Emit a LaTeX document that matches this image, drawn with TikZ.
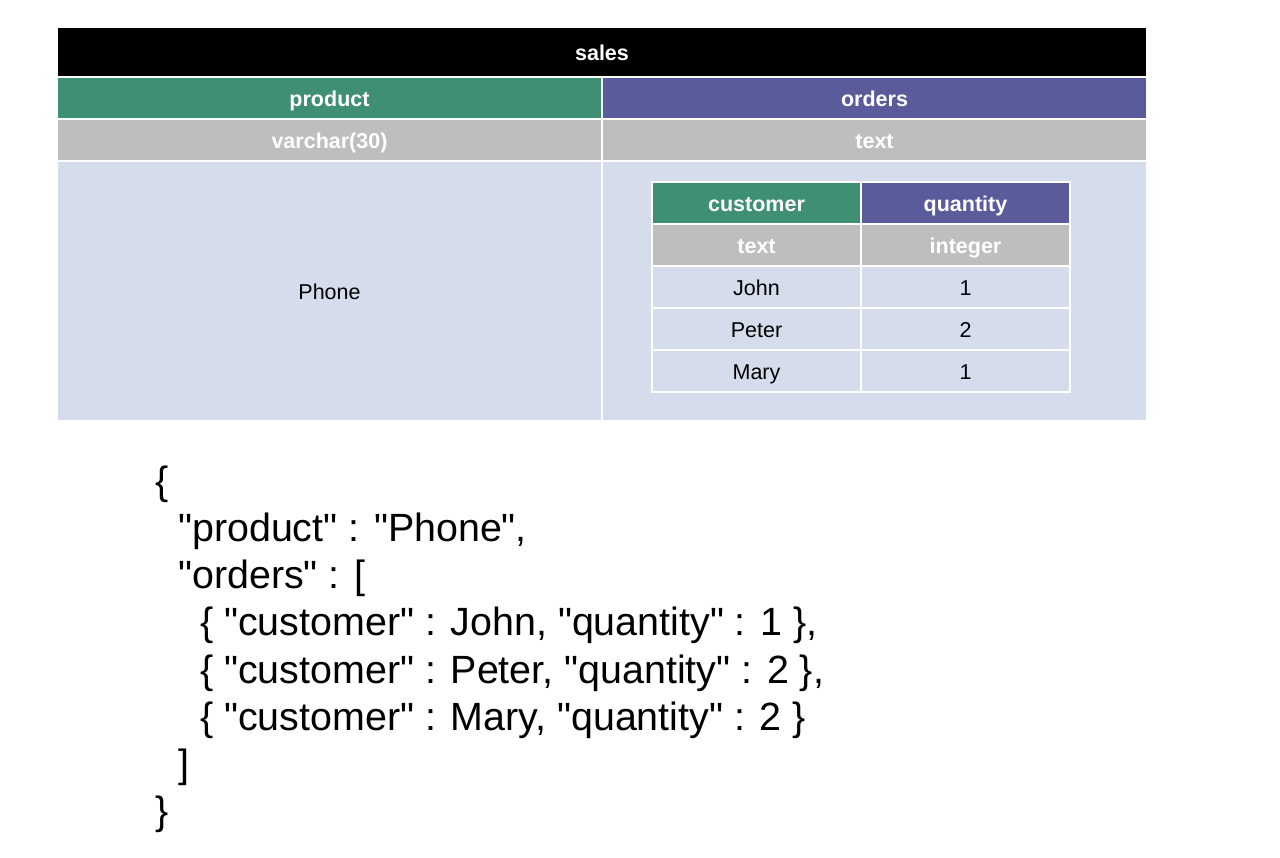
\documentclass[tikz,border=0pt]{standalone}
\usepackage{fontspec}
\setmainfont{Liberation Sans}
\newcommand\dq{\XeTeXglyph\XeTeXcharglyph"22\relax}
\definecolor{hgreen}{HTML}{3F8F73}
\definecolor{hpurple}{HTML}{5A5B9A}
\definecolor{hgray}{HTML}{BEBEBE}
\definecolor{hblue}{HTML}{D5DCEB}
\begin{document}
\begin{tikzpicture}[x=1pt,y=-1pt,
  cell/.style={draw=white,line width=2pt,inner sep=0pt,outer sep=0pt,
    font=\fontsize{21.5}{25}\selectfont,text height=20.5pt,text depth=3pt},
  headcell/.style={cell,text=white,font=\fontsize{21.5}{25}\selectfont\bfseries},
  json/.style={anchor=base west,inner sep=0pt,font=\fontsize{39.4}{47}\selectfont}]
\useasboundingbox[fill=white] (0,0) rectangle (1280,858);
% outer table
\node[headcell,fill=black,minimum width=1090,minimum height=50] (sales) at (602,52) {sales};
\node[headcell,fill=hgreen,minimum width=545,minimum height=42] (product) at (329.5,98) {product};
\node[headcell,fill=hpurple,minimum width=545,minimum height=42] (orders) at (874.5,98) {orders};
\node[headcell,fill=hgray,minimum width=545,minimum height=42] (ptype) at (329.5,140) {varchar(30)};
\node[headcell,fill=hgray,minimum width=545,minimum height=42] (otype) at (874.5,140) {text};
\node[cell,fill=hblue,minimum width=545,minimum height=260] (pdata) at (329.5,291) {Phone};
\node[cell,fill=hblue,minimum width=545,minimum height=260] (odata) at (874.5,291) {};
% inner table
\node[headcell,fill=hgreen,minimum width=209,minimum height=42] (customer) at (756.5,203) {customer};
\node[headcell,fill=hpurple,minimum width=209,minimum height=42] (quantity) at (965.5,203) {quantity};
\node[headcell,fill=hgray,minimum width=209,minimum height=42] (ctype) at (756.5,245) {text};
\node[headcell,fill=hgray,minimum width=209,minimum height=42] (qtype) at (965.5,245) {integer};
\node[cell,fill=hblue,minimum width=209,minimum height=42] (john) at (756.5,287) {John};
\node[cell,fill=hblue,minimum width=209,minimum height=42] (one1) at (965.5,287) {1};
\node[cell,fill=hblue,minimum width=209,minimum height=42] (peter) at (756.5,329) {Peter};
\node[cell,fill=hblue,minimum width=209,minimum height=42] (two) at (965.5,329) {2};
\node[cell,fill=hblue,minimum width=209,minimum height=42] (mary) at (756.5,371) {Mary};
\node[cell,fill=hblue,minimum width=209,minimum height=42] (one2) at (965.5,371) {1};
% JSON
\node[json] (j1) at (155,494) {\{};
\node[json] (j2) at (178,541) {\dq product\dq{} : \dq Phone\dq,};
\node[json] (j3) at (178,588) {\dq orders\dq{} : [};
\node[json] (j4) at (200,635) {\{ \dq customer\dq{} : John, \dq quantity\dq{} : 1 \},};
\node[json] (j5) at (200,683) {\{ \dq customer\dq{} : Peter, \dq quantity\dq{} : 2 \},};
\node[json] (j6) at (200,730) {\{ \dq customer\dq{} : Mary, \dq quantity\dq{} : 2 \}};
\node[json] (j7) at (178,777) {]};
\node[json] (j8) at (155,824) {\}};
\end{tikzpicture}
\end{document}
